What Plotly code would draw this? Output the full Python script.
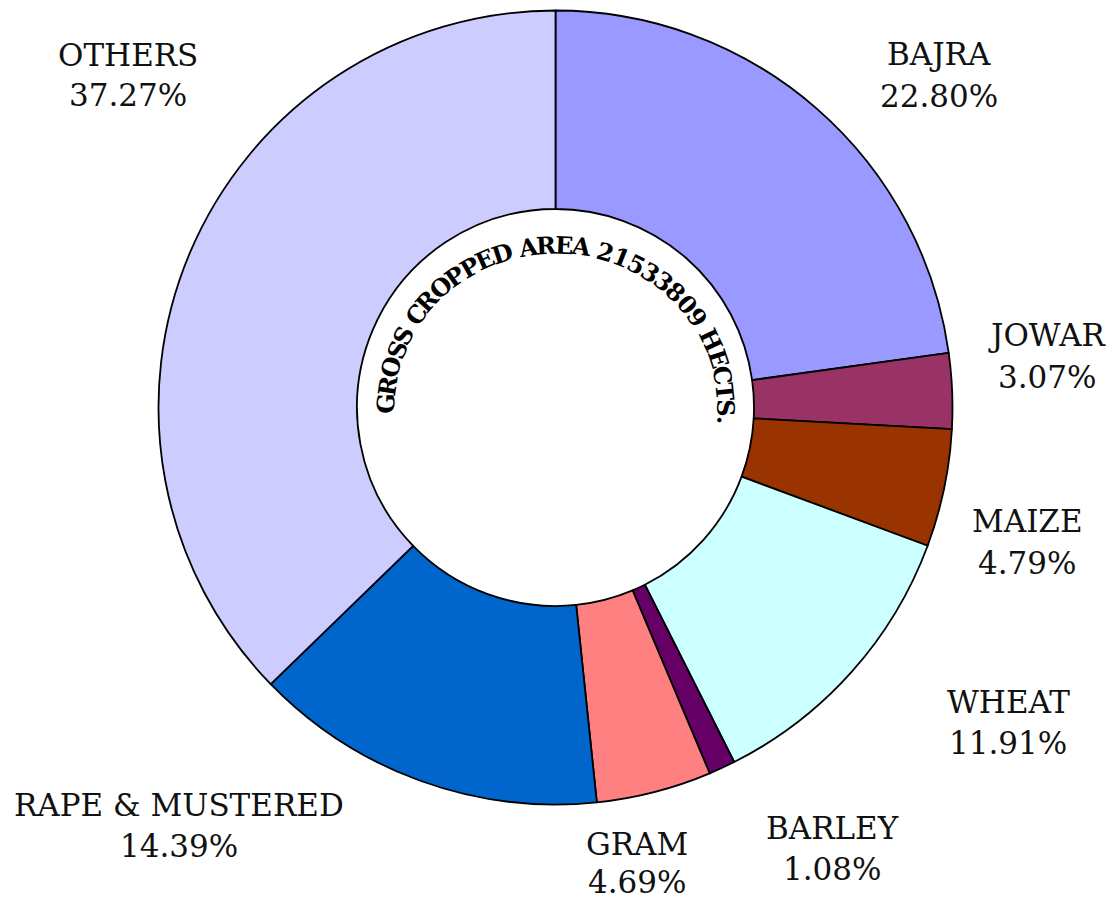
import numpy as np
import plotly.graph_objects as go

# ---------------- data ----------------
CROPS = ["BAJRA", "JOWAR", "MAIZE", "WHEAT", "BARLEY", "GRAM",
         "RAPE & MUSTERED", "OTHERS"]
SHARES = [22.80, 3.07, 4.79, 11.91, 1.08, 4.69, 14.39, 37.27]
COLORS = ["#9999FF", "#993366", "#993300", "#CCFFFF", "#660066",
          "#FF8080", "#0066CC", "#CCCCFF"]
CENTER_TEXT = "GROSS CROPPED AREA 21533809 HECTS."

# ---------------- layout helpers ----------------
W, H = 1119, 903
CX, CY, R = 555.5, 407.5, 397.0          # pie centre / radius in px


def paper(x, y):
    return x / W, 1 - y / H


# label placement (centre x, name y, percent y) in px
LABEL_XY = [(939, 54, 96), (1047, 335, 377), (1027, 521, 563),
            (1008, 702, 743), (832, 828, 869), (637, 844, 882),
            (179, 805, 846), (128, 55, 95)]

fig = go.Figure(go.Pie(
    labels=CROPS, values=SHARES, sort=False, direction="clockwise",
    rotation=0, hole=0.5, textinfo="none", hoverinfo="label+percent",
    marker=dict(colors=COLORS, line=dict(color="black", width=1.8)),
    domain=dict(x=[(CX - R) / W, (CX + R) / W],
                y=[1 - (CY + R) / H, 1 - (CY - R) / H]),
    showlegend=False,
))

ann = []
LABEL_FONT = dict(family="DejaVu Serif", size=31, color="#111111")
for name, val, (lx, ny, py) in zip(CROPS, SHARES, LABEL_XY):
    x, y = paper(lx, ny)
    ann.append(dict(x=x, y=y, xref="paper", yref="paper", text=name,
                    showarrow=False, font=LABEL_FONT,
                    xanchor="center", yanchor="middle"))
    x, y = paper(lx, py)
    ann.append(dict(x=x, y=y, xref="paper", yref="paper",
                    text=f"{val:.2f}%", showarrow=False, font=LABEL_FONT,
                    xanchor="center", yanchor="middle"))

# ---------------- curved centre text ----------------
WID = {"G": .821, "R": .770, "O": .820, "S": .685, " ": .348, "C": .734,
       "P": .732, "E": .725, "D": .830, "A": .776, "H": .944, "T": .710,
       ".": .380}
for d in "0123456789":
    WID[d] = .696
widths = np.array([WID[c] for c in CENTER_TEXT])
centers = np.cumsum(widths) - widths / 2
centers = (centers - centers[0]) / (centers[-1] - centers[0])

TX, TY, RX, RY = 556.0, 408.0, 170.0, 163.0
phi = np.radians(np.linspace(-100, 100, 4001))
xs = TX + RX * np.sin(phi)
ys = TY - RY * np.cos(phi)
seg = np.hypot(np.diff(xs), np.diff(ys))
s = np.concatenate([[0], np.cumsum(seg)])
deg = np.degrees(phi)
s0 = np.interp(-88.5, deg, s)
s1 = np.interp(94.5, deg, s)
for ch, c in zip(CENTER_TEXT, centers):
    if ch == " ":
        continue
    sc = s0 + c * (s1 - s0)
    p = np.interp(sc, s, phi)
    x = TX + RX * np.sin(p)
    y = TY - RY * np.cos(p)
    ang = np.degrees(np.arctan2(RY * np.sin(p), RX * np.cos(p)))
    xx, yy = paper(x, y)
    ann.append(dict(x=xx, y=yy, xref="paper", yref="paper", text=ch,
                    showarrow=False, textangle=ang,
                    font=dict(family="DejaVu Serif", size=24, color="black",
                              weight="bold"),
                    xanchor="center", yanchor="middle"))

fig.update_layout(
    width=W, height=H, margin=dict(l=0, r=0, t=0, b=0),
    paper_bgcolor="white", plot_bgcolor="white",
    annotations=ann,
)
fig.write_html(
    "out.html",
    config={"displayModeBar": False},
    post_script="document.body.style.margin='0';"
                "document.body.style.overflow='hidden';",
)
